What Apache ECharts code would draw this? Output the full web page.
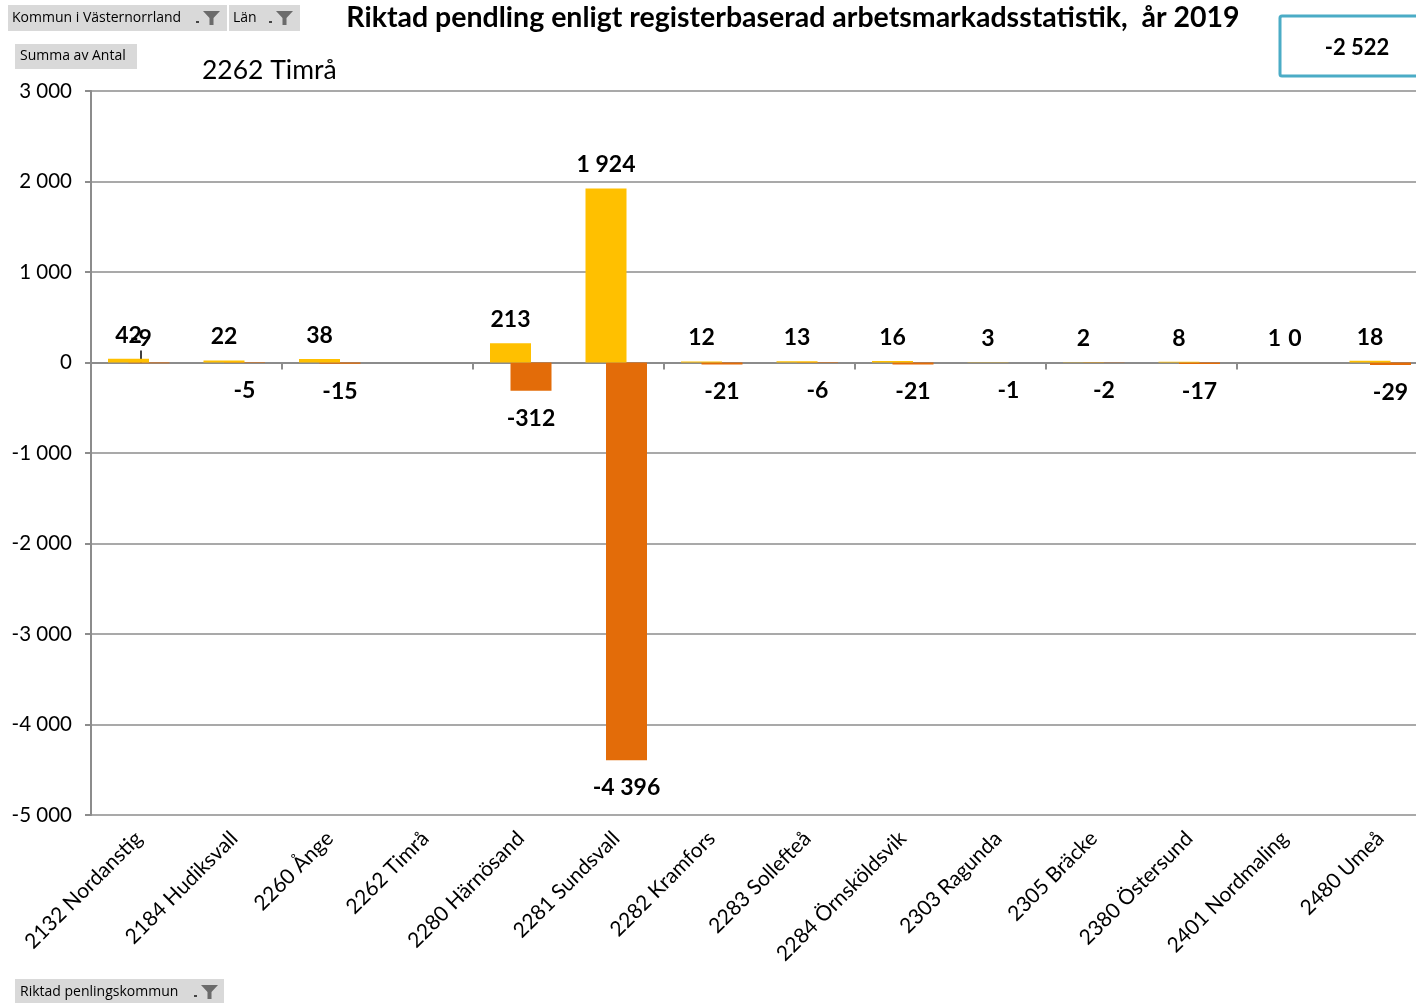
<!DOCTYPE html>
<html>
<head>
<meta charset="utf-8">
<script src="https://cdn.jsdelivr.net/npm/echarts@6/dist/echarts.min.js"></script>
<style>
html,body{margin:0;padding:0;background:#fff;overflow:hidden;}
#c{width:1440px;height:1003px;}
</style>
</head>
<body>
<div id="c"></div>
<script>
const categories = ['2132 Nordanstig','2184 Hudiksvall','2260 Ånge','2262 Timrå','2280 Härnösand','2281 Sundsvall','2282 Kramfors','2283 Sollefteå','2284 Örnsköldsvik','2303 Ragunda','2305 Bräcke','2380 Östersund','2401 Nordmaling','2480 Umeå'];
const inflow  = [42, 22, 38, null, 213, 1924, 12, 13, 16, 3, 2, 8, 1, 18];
const outflow = [-9, -5, -15, null, -312, -4396, -21, -6, -21, -1, -2, -17, 0, -29];
const total = -2522;
const yTicks = [-5000, -4000, -3000, -2000, -1000, 0, 1000, 2000, 3000];

function fmt(v){
  const s = Math.abs(v).toString().replace(/\B(?=(\d{3})+(?!\d))/g, ' ');
  return (v < 0 ? '-' : '') + s;
}
const FONT = 'Lato';
const labelBase = {show:true, color:'#000', fontWeight:'bold', fontSize:23, fontFamily:FONT, formatter:p=>fmt(p.value)};

const outData = outflow.map((v,i)=>{
  if (v === null) return null;
  if (i === 0) return {value:v, label:{position:'top', distance:12}, labelLine:{show:true, lineStyle:{color:'#000', width:1.5}}};
  if (v >= 0) return {value:v, label:{position:'top', distance:12}};
  return v;
});

function funnel(x,y){
  return [
    {type:'polygon', shape:{points:[[x,y],[x+17,y],[x+10.5,y+7],[x+10.5,y+14],[x+6.5,y+14],[x+6.5,y+7]]}, style:{fill:'#6b6b6b'}},
    {type:'rect', shape:{x:x-7,y:y+10,width:3,height:2}, style:{fill:'#444'}}
  ];
}
function btnText(x,y,t){
  return {type:'text', style:{x:x, y:y, text:t, verticalAlign:'middle', fill:'#000', font:'14px "Open Sans"'}};
}

const chart = echarts.init(document.getElementById('c'), null, {renderer:'canvas'});
chart.setOption({
  animation:false,
  backgroundColor:'#fff',
  title:[
    {text:'Riktad pendling enligt registerbaserad arbetsmarkadsstatistik,  år 2019', left:788, textAlign:'center', top:-2,
     textStyle:{fontFamily:FONT, fontWeight:'bold', fontSize:28.5, color:'#000'}},
    {text:'2262 Timrå', left:197, top:52, textStyle:{fontFamily:FONT, fontWeight:'normal', fontSize:26.5, color:'#000'}}
  ],
  grid:{left:91, top:91, width:1337, height:724, containLabel:false},
  xAxis:[
    {type:'category', data:categories, position:'bottom',
     axisLine:{onZero:true, lineStyle:{color:'#8c8c8c', width:2}},
     axisTick:{show:true, length:7, lineStyle:{color:'#8c8c8c', width:2}},
     axisLabel:{show:false}},
    {type:'category', data:categories, position:'bottom',
     axisLine:{show:false}, axisTick:{show:false},
     axisLabel:{show:true, rotate:45, interval:0, margin:20, fontSize:21, fontFamily:FONT, color:'#000'}}
  ],
  yAxis:{type:'value', min:-5000, max:3000, interval:1000,
    axisLine:{show:true, lineStyle:{color:'#8c8c8c', width:2}},
    axisTick:{show:true, length:6, lineStyle:{color:'#8c8c8c', width:2}},
    splitLine:{lineStyle:{color:'#8c8c8c', width:1.5}},
    axisLabel:{formatter:v=>fmt(v), fontSize:20.5, fontFamily:FONT, color:'#000', margin:19}},
  series:[
    {name:'In', type:'bar', data:inflow, xAxisIndex:0, barWidth:41, barGap:'-50%',
     itemStyle:{color:'#FFC000'}, z:3,
     label:Object.assign({}, labelBase, {position:'top', distance:12})},
    {name:'Ut', type:'bar', data:outData, xAxisIndex:0, barWidth:41, barGap:'-50%',
     itemStyle:{color:'#E36C09'}, z:2,
     label:Object.assign({}, labelBase, {position:'bottom', distance:16}),
     labelLayout:function(p){ return p.dataIndex === 0 ? {dx:-8, dy:0} : {}; }}
  ],
  graphic:[
    {type:'group', children:[
      {type:'rect', shape:{x:8,y:5,width:219,height:26}, style:{fill:'#d9d9d9'}},
      btnText(12,18,'Kommun i Västernorrland'),
      ...funnel(203,11),
      {type:'rect', shape:{x:229,y:5,width:71,height:26}, style:{fill:'#d9d9d9'}},
      btnText(233,18,'Län'),
      ...funnel(276,11),
      {type:'rect', shape:{x:15,y:44,width:122,height:25}, style:{fill:'#d9d9d9'}},
      btnText(20,56,'Summa av Antal'),
      {type:'rect', shape:{x:15,y:979,width:209,height:26}, style:{fill:'#d9d9d9'}},
      btnText(20,992,'Riktad penlingskommun'),
      ...funnel(201,985),
      {type:'rect', shape:{x:1280,y:16,width:150,height:60, r:2}, style:{fill:'#fff', stroke:'#4BACC6', lineWidth:3}},
      {type:'text', style:{x:1357,y:48,text:fmt(total), align:'center', verticalAlign:'middle', fill:'#000', font:'bold 22px Lato'}}
    ]}
  ]
});
</script>
</body>
</html>
